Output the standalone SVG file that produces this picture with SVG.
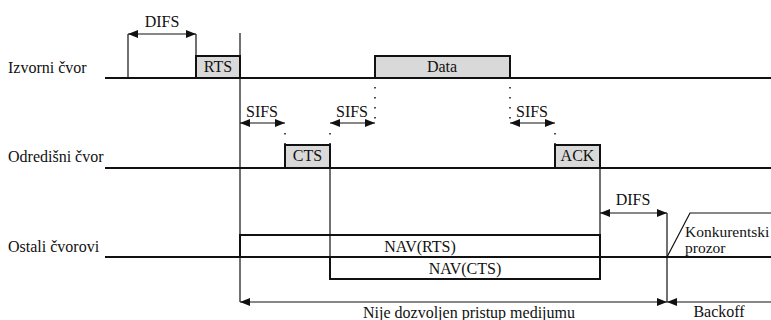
<svg xmlns="http://www.w3.org/2000/svg" width="771" height="320" viewBox="0 0 771 320">
<style>
text{font-family:'Liberation Serif','Times New Roman','DejaVu Serif',serif;font-size:16px;fill:#111}
.m{text-anchor:middle}
.axis{stroke:#111;stroke-width:2;fill:none}
.thin{stroke:#111;stroke-width:1.2;fill:none}
.box{fill:#d9d9d9;stroke:#111;stroke-width:2}
.nav{fill:#fff;stroke:#111;stroke-width:2}
.dot{stroke:#111;stroke-width:1.5;stroke-dasharray:1.5 8.5;fill:none}
.arr{stroke:#111;stroke-width:1.2;fill:none;marker-start:url(#ah);marker-end:url(#ah)}
.arr1{stroke:#111;stroke-width:1.2;fill:none;marker-end:url(#ah)}
</style>
<defs>
<marker id="ah" markerUnits="userSpaceOnUse" markerWidth="11" markerHeight="8" refX="10" refY="4" orient="auto-start-reverse">
<path d="M0,0 L10,4 L0,8 z" fill="#111"/>
</marker>
</defs>
<g id="labels" font-family="'Liberation Serif', 'DejaVu Serif', serif">
<text x="8" y="73">Izvorni čvor</text>
<text x="8" y="162">Odredišni čvor</text>
<text x="8" y="252">Ostali čvorovi</text>
</g>
<g id="timelines">
<line class="axis" x1="105" y1="78" x2="771" y2="78"/>
<line class="axis" x1="105" y1="168" x2="771" y2="168"/>
<line class="axis" x1="105" y1="257" x2="771" y2="257"/>
</g>
<g id="nav-rts">
<rect class="nav" x="240" y="235" width="360" height="22"/>
<text class="m" x="420" y="252">NAV(RTS)</text>
</g>
<g id="nav-cts">
<rect class="nav" x="330" y="257" width="270" height="22"/>
<line class="axis" x1="330" y1="257" x2="600" y2="257"/>
<text class="m" x="465" y="274">NAV(CTS)</text>
</g>
<g id="rts">
<rect class="box" x="196" y="56" width="44" height="22"/>
<text class="m" x="218" y="72">RTS</text>
</g>
<g id="data">
<rect class="box" x="375" y="56" width="135" height="22"/>
<text class="m" x="442" y="72">Data</text>
</g>
<g id="cts">
<rect class="box" x="285" y="145" width="45" height="23"/>
<text class="m" x="307.5" y="161">CTS</text>
</g>
<g id="ack">
<rect class="box" x="555" y="145" width="45" height="23"/>
<text class="m" x="577.5" y="161">ACK</text>
</g>
<g id="konkurentski">
<polyline class="thin" points="667,257 690,213 771,213"/>
<text x="685" y="237" style="font-size:15.5px">Konkurentski</text>
<text x="685" y="253" style="font-size:15.5px">prozor</text>
</g>
<g id="connectors">
<line class="thin" x1="128" y1="34" x2="128" y2="78"/>
<line class="thin" x1="196" y1="34" x2="196" y2="56"/>
<line class="thin" x1="240" y1="33" x2="240" y2="302"/>
<line class="thin" x1="330" y1="168" x2="330" y2="257"/>
<line class="thin" x1="600" y1="168" x2="600" y2="279"/>
<line class="thin" x1="667" y1="213" x2="667" y2="302"/>
<line class="dot" x1="375" y1="87" x2="375" y2="120"/>
<line class="dot" x1="510" y1="87" x2="510" y2="120"/>
<line class="dot" x1="285" y1="133" x2="285" y2="145"/>
<line class="dot" x1="330" y1="133" x2="330" y2="145"/>
<line class="dot" x1="555" y1="133" x2="555" y2="145"/>
<line class="arr" x1="128" y1="34" x2="196" y2="34"/>
<line class="arr" x1="240" y1="123" x2="285" y2="123"/>
<line class="arr" x1="330" y1="123" x2="375" y2="123"/>
<line class="arr" x1="510" y1="123" x2="555" y2="123"/>
<line class="arr" x1="600" y1="213" x2="667" y2="213"/>
<line class="arr" x1="240" y1="302" x2="667" y2="302"/>
<line class="arr1" x1="771" y1="302" x2="667" y2="302"/>
</g>
<g id="interval-labels">
<text class="m" x="162" y="27">DIFS</text>
<text class="m" x="262" y="117">SIFS</text>
<text class="m" x="352" y="117">SIFS</text>
<text class="m" x="532" y="117">SIFS</text>
<text class="m" x="633" y="205">DIFS</text>
<text class="m" x="469" y="318">Nije dozvoljen pristup medijumu</text>
<text class="m" x="719" y="317">Backoff</text>
</g>
</svg>
